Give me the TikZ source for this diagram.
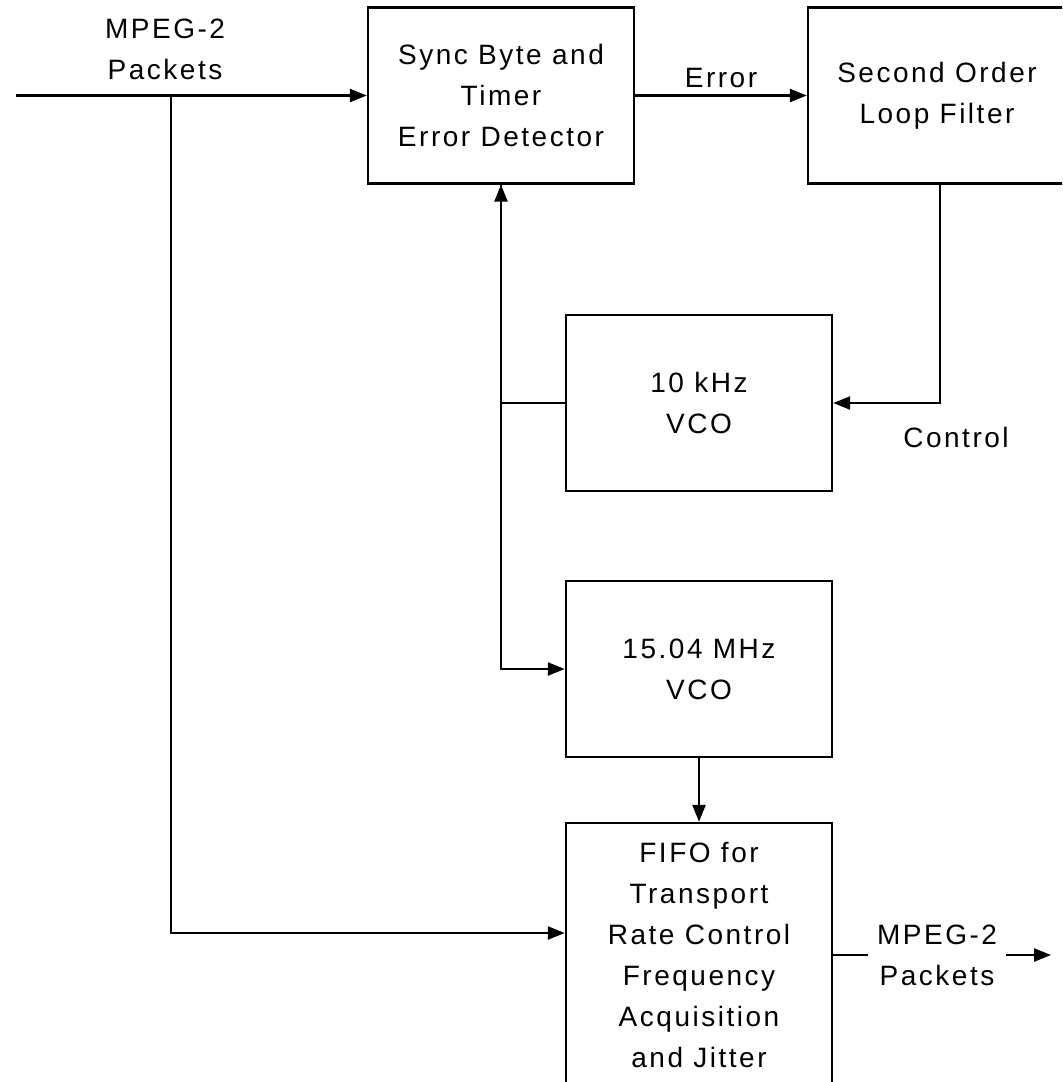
\documentclass[tikz,border=0pt]{standalone}
\usepackage{fontspec}
\setmainfont{Liberation Sans}[LetterSpace=9]
\usepackage{tikz}
\usetikzlibrary{arrows.meta,calc}
\tikzset{
  block/.style={draw, line width=1.2pt, minimum width=133pt, minimum height=88pt,
    inner sep=0pt, align=center, font=\fontsize{14}{20.5}\selectfont},
  lbl/.style={align=center, font=\fontsize{14}{20.5}\selectfont},
  wire/.style={line width=1.2pt},
  sig/.style={wire, -{Triangle[length=8.5pt,width=6.5pt]}}
}

\begin{document}
\begin{tikzpicture}[x=0.5pt, y=-0.5pt]
  \useasboundingbox (0,0) rectangle (1062,1082);
  \clip (0,0) rectangle (1062,1082);

  \node[block] (sync) at (501,95.5) {Sync Byte and\\Timer\\Error Detector};
  \node[block, minimum width=129pt] (filter) at (937,95.5) {Second Order\\Loop Filter};
  \node[block] (vcolow) at (699,403) {10 kHz\\VCO};
  \node[block] (vcohigh) at (699,669) {15.04 MHz\\VCO};
  \node[block, minimum height=132pt] (fifo) at (699,955)
    {FIFO for\\Transport\\Rate Control\\Frequency\\Acquisition\\and Jitter};

  \node[lbl] (inlbl) at (165,49) {MPEG-2\\Packets};
  \node[lbl, inner xsep=4.5pt] (outlbl) at (937,955) {MPEG-2\\Packets};
  \node[lbl] (ctl) at (956,437) {Control};

  \coordinate (in) at (16,95.5);
  \coordinate (tap) at (171,95.5);
  \coordinate (out) at (1051,955);

  \draw[sig] (in) -- (sync);
  \draw[sig] (tap) |- ([yshift=11pt]fifo.west);
  \draw[sig] (sync) -- node[lbl, above] (err) {Error} (filter);
  \draw[sig] ([xshift=1.5pt]filter.south) |- (vcolow);
  \draw[sig] (vcolow.west) -| (sync.south);
  \draw[sig] (sync.south) |- (vcohigh.west);
  \draw[sig] (vcohigh) -- (fifo);
  \draw[wire] (fifo.east) -- (outlbl.west);
  \draw[sig] (outlbl.east) -- (out);
\end{tikzpicture}
\end{document}
